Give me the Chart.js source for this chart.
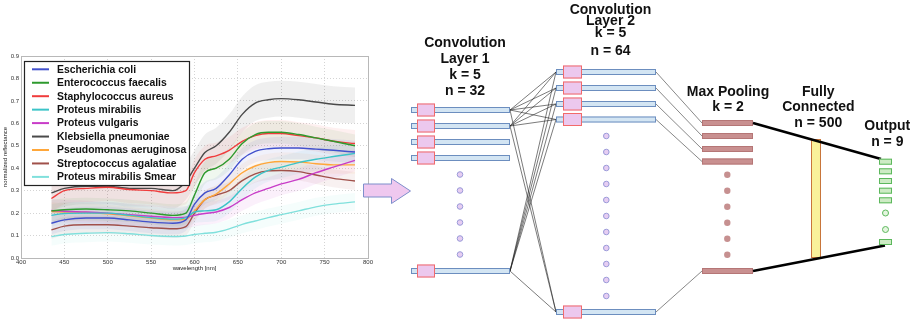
<!DOCTYPE html>
<html>
<head>
<meta charset="utf-8">
<script src="https://cdn.jsdelivr.net/npm/chart.js@4.4.1/dist/chart.umd.min.js"></script>
<style>
html, body { margin: 0; padding: 0; background: #fff; width: 916px; height: 324px; overflow: hidden; }
#chart { position: absolute; left: 0; top: 0; }
#net { position: absolute; left: 0; top: 0; pointer-events: none; }
</style>
</head>
<body>
<canvas id="chart" width="380" height="324"></canvas>
<canvas id="net" width="916" height="324"></canvas>
<script>
// data
const wavelengths = [435, 450, 475, 500, 525, 550, 575, 590, 600, 612, 625, 640, 655, 670, 685, 700, 720, 740, 760, 785];
const species = ['Escherichia coli', 'Enterococcus faecalis', 'Staphylococcus aureus', 'Proteus mirabilis',
    'Proteus vulgaris', 'Klebsiella pneumoniae', 'Pseudomonas aeruginosa', 'Streptococcus agalatiae', 'Proteus mirabilis Smear'];
const colors = ['#4150cc', '#2e9a2e', '#f03c3c', '#3cc4c8', '#c83cc8', '#4a4a4a', '#ffa73a', '#a0504a', '#80e0dc'];

const ecoli      = [0.155, 0.170, 0.178, 0.178, 0.170, 0.160, 0.155, 0.170, 0.240, 0.290, 0.310, 0.370, 0.440, 0.475, 0.487, 0.490, 0.490, 0.485, 0.480, 0.472];
const faecalis   = [0.210, 0.215, 0.218, 0.215, 0.210, 0.200, 0.190, 0.200, 0.280, 0.380, 0.400, 0.440, 0.510, 0.550, 0.560, 0.560, 0.550, 0.535, 0.520, 0.500];
const aureus     = [0.265, 0.300, 0.310, 0.315, 0.305, 0.300, 0.290, 0.300, 0.380, 0.440, 0.455, 0.480, 0.520, 0.545, 0.555, 0.555, 0.545, 0.535, 0.520, 0.510];
const mirabilis  = [0.190, 0.198, 0.200, 0.200, 0.190, 0.180, 0.173, 0.180, 0.205, 0.210, 0.215, 0.250, 0.310, 0.360, 0.390, 0.405, 0.425, 0.440, 0.452, 0.466];
const vulgaris   = [0.212, 0.208, 0.205, 0.200, 0.193, 0.186, 0.180, 0.182, 0.190, 0.198, 0.205, 0.225, 0.260, 0.290, 0.310, 0.330, 0.350, 0.380, 0.405, 0.435];
const klebsiella = [0.290, 0.310, 0.320, 0.320, 0.310, 0.310, 0.300, 0.340, 0.400, 0.470, 0.500, 0.560, 0.640, 0.690, 0.705, 0.710, 0.705, 0.695, 0.685, 0.680];
const pseudo     = [0.207, 0.205, 0.203, 0.197, 0.188, 0.178, 0.170, 0.172, 0.210, 0.260, 0.285, 0.330, 0.380, 0.410, 0.425, 0.430, 0.428, 0.420, 0.415, 0.415];
const strepto    = [0.125, 0.142, 0.148, 0.148, 0.142, 0.135, 0.130, 0.140, 0.200, 0.260, 0.280, 0.300, 0.345, 0.375, 0.388, 0.390, 0.385, 0.370, 0.355, 0.343];
const smear      = [0.095, 0.105, 0.110, 0.113, 0.108, 0.100, 0.096, 0.098, 0.105, 0.110, 0.115, 0.130, 0.150, 0.165, 0.180, 0.193, 0.210, 0.228, 0.240, 0.250];
const spread     = [0.05, 0.05, 0.06, 0.05, 0.05, 0.08, 0.04, 0.04, 0.04];   // half width of the shaded band
const seriesValues = [ecoli, faecalis, aureus, mirabilis, vulgaris, klebsiella, pseudo, strepto, smear];
const yTicks = [0, 0.1, 0.2, 0.3, 0.4, 0.5, 0.6, 0.7, 0.8, 0.9];

function fade(hex, a) {
    const n = parseInt(hex.slice(1), 16);
    return 'rgba(' + (n >> 16) + ',' + ((n >> 8) & 255) + ',' + (n & 255) + ',' + a + ')';
}

const datasets = [];
seriesValues.forEach((vals, i) => {
    datasets.push({
        label: species[i],
        data: vals.map((v, j) => ({ x: wavelengths[j], y: v })),
        borderColor: colors[i], borderWidth: 1.4, pointRadius: 0,
        cubicInterpolationMode: 'monotone', fill: false, order: 1
    });
});
seriesValues.forEach((vals, i) => {
    datasets.push({
        label: 'band', data: vals.map((v, j) => ({ x: wavelengths[j], y: v + spread[i] })),
        borderWidth: 0, pointRadius: 0, cubicInterpolationMode: 'monotone',
        backgroundColor: fade(colors[i], i === 5 ? 0.09 : 0.08), fill: '+1', order: 5
    });
    datasets.push({
        label: 'band', data: vals.map((v, j) => ({ x: wavelengths[j], y: v - spread[i] })),
        borderWidth: 0, pointRadius: 0, cubicInterpolationMode: 'monotone', fill: false, order: 5
    });
});

const framePlugin = {
    id: 'frame',
    afterDatasetsDraw(chart) {
        const c = chart.ctx, a = chart.chartArea;
        c.save();
        c.strokeStyle = '#b8b8b8';
        c.lineWidth = 1;
        c.strokeRect(a.left + 0.5, a.top + 0.5, a.right - a.left, a.bottom - a.top);
        // legend box
        const lx = 24.5, ly = 61.5, lw = 165, lh = 124;
        c.fillStyle = '#fff';
        c.fillRect(lx, ly, lw, lh);
        c.strokeStyle = '#222';
        c.lineWidth = 1.2;
        c.strokeRect(lx, ly, lw, lh);
        c.font = 'bold 10.4px "Liberation Sans", Arial, sans-serif';
        c.textBaseline = 'middle';
        c.fillStyle = '#111';
        species.forEach((s, i) => {
            const y = 69.3 + i * 13.45;
            c.strokeStyle = colors[i];
            c.lineWidth = 2;
            c.beginPath(); c.moveTo(32, y); c.lineTo(49, y); c.stroke();
            c.fillText(s, 57, y + 0.5);
        });
        c.restore();
    }
};

const chart = new Chart(document.getElementById('chart').getContext('2d'), {
    type: 'line',
    data: { datasets: datasets },
    options: {
        responsive: false,
        animation: false,
        devicePixelRatio: 1,
        layout: { padding: { top: 56, right: 12, bottom: 52, left: 0 } },
        plugins: { legend: { display: false }, tooltip: { enabled: false } },
        scales: {
            x: {
                type: 'linear', min: 400, max: 800,
                ticks: { stepSize: 50, font: { size: 6 }, color: '#333', padding: 1, maxRotation: 0 },
                grid: { color: '#d4d4d4', drawTicks: false },
                border: { display: false, dash: [1, 2] },
                title: { display: true, text: 'wavelength [nm]', font: { size: 6 }, color: '#222', padding: 0 },
                afterFit(s) { s.height = 14; }
            },
            y: {
                min: 0, max: 0.9,
                afterBuildTicks(s) { s.ticks = yTicks.map(v => ({ value: v })); },
                ticks: { font: { size: 6 }, color: '#333', padding: 2, callback: v => v.toFixed(1) },
                grid: { color: '#d4d4d4', drawTicks: false },
                border: { display: false, dash: [1, 2] },
                title: { display: true, text: 'normalized reflectance', font: { size: 6 }, color: '#222', padding: 2 },
                afterFit(s) { s.width = 21; }
            }
        }
    },
    plugins: [framePlugin]
});

// network diagram to the right of the plot
function drawNet() {
    const c = document.getElementById('net').getContext('2d');

    function bar(x1, x2, y, h, fill, stroke) {
        c.fillStyle = fill; c.strokeStyle = stroke; c.lineWidth = 1;
        c.fillRect(x1, y - h / 2, x2 - x1, h);
        c.strokeRect(x1 + 0.5, y - h / 2 + 0.5, x2 - x1 - 1, h - 1);
    }
    function dot(x, y, r, fill, stroke) {
        c.beginPath(); c.arc(x, y, r, 0, Math.PI * 2);
        c.fillStyle = fill; c.fill();
        if (stroke) { c.strokeStyle = stroke; c.lineWidth = 1; c.stroke(); }
    }
    function line(x1, y1, x2, y2, w, col) {
        c.beginPath(); c.moveTo(x1, y1); c.lineTo(x2, y2);
        c.strokeStyle = col; c.lineWidth = w; c.stroke();
    }
    function label(lines, x) {
        c.font = 'bold 14px "Liberation Sans", Arial, sans-serif';
        c.fillStyle = '#111'; c.textAlign = 'center'; c.textBaseline = 'middle';
        lines.forEach(l => c.fillText(l[0], x, l[1]));
    }

    // arrow
    c.beginPath();
    c.moveTo(363.5, 184); c.lineTo(391.5, 184); c.lineTo(391.5, 178.5); c.lineTo(410.5, 191);
    c.lineTo(391.5, 203.5); c.lineTo(391.5, 197); c.lineTo(363.5, 197); c.closePath();
    c.fillStyle = '#efc8ef'; c.fill(); c.strokeStyle = '#7d8ecb'; c.lineWidth = 1; c.stroke();

    const l1 = [110, 126, 142, 158, 271];
    const l2 = [72, 88, 104, 119.5, 312];
    const mp = [123, 136, 149, 161.5, 271];

    // conv1 -> conv2 links
    [110, 126, 271].forEach(ys => l2.forEach(yt => line(510, ys, 556, yt, 0.6, '#222')));
    // conv2 -> pooling links
    l2.forEach((y, i) => line(656, y, 702, mp[i], 0.7, '#555'));

    l1.forEach(y => { bar(411, 510, y, 6, '#d3e5f3', '#6c8ebf'); bar(417, 435, y, 13, '#ecc8ee', '#f26a6a'); });
    l2.forEach(y => { bar(556, 656, y, 6, '#d3e5f3', '#6c8ebf'); bar(563, 582, y, 13, '#ecc8ee', '#f26a6a'); });
    [174.5, 190.5, 206.5, 222.5, 238.5, 254.5].forEach(y => dot(460, y, 2.8, '#e6cdf2', '#9a9ad8'));
    for (let y = 136; y <= 296; y += 16) dot(606.3, y, 2.8, '#e6cdf2', '#9a9ad8');

    mp.forEach(y => bar(702, 753, y, 6, '#c99090', '#b57676'));
    [174.7, 190.7, 206.7, 222.7, 238.7, 254.7].forEach(y => dot(727.3, y, 3.2, '#c69090'));

    // fully connected
    bar(811, 821, 198.5, 119, '#f9f19a', '#c8753a');
    line(753, 123, 881, 159, 2.6, '#000');
    line(753, 271, 885, 245.5, 2.6, '#000');

    // output
    [161.7, 171.3, 181, 190.7, 200.3, 242].forEach(y => bar(879, 892, y, 6, '#cdebc4', '#5cb85c'));
    dot(885.5, 213, 3, '#e4f5df', '#5cb85c');
    dot(885.5, 229.5, 3, '#e4f5df', '#5cb85c');

    label([['Convolution', 43], ['Layer 1', 59], ['k = 5', 75], ['n = 32', 91]], 465);
    label([['Convolution', 10], ['Layer 2', 21.5], ['k = 5', 33], ['n = 64', 50.7]], 610.5);
    label([['Max Pooling', 91.7], ['k = 2', 107.3]], 728);
    label([['Fully', 91.7], ['Connected', 107.3], ['n = 500', 123.3]], 818.3);
    label([['Output', 125.7], ['n = 9', 141.7]], 887.3);
}
drawNet();
</script>
</body>
</html>
